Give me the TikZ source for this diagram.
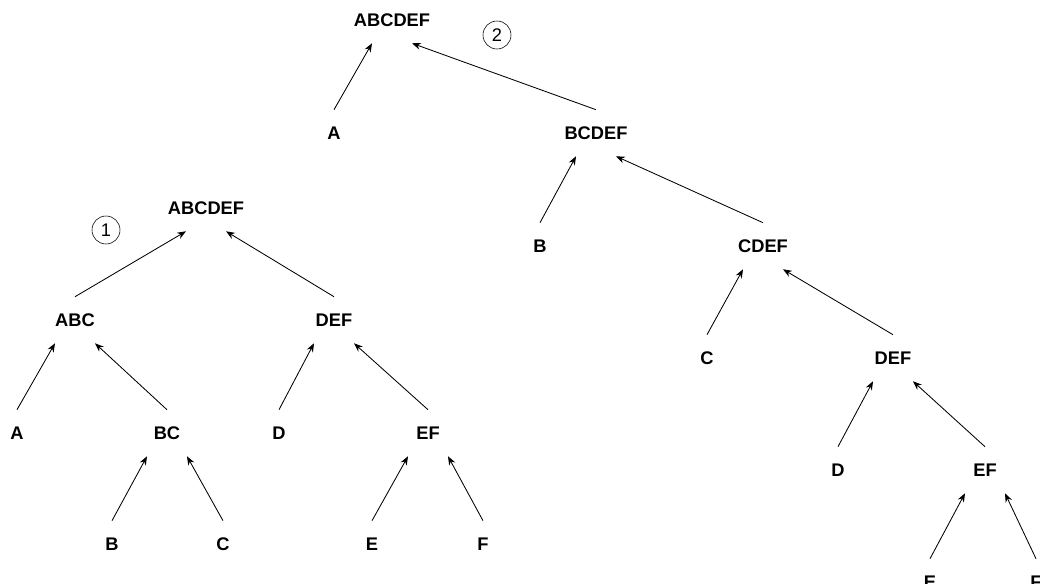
\documentclass[tikz,border=0pt]{standalone}
\usepackage{fontspec}
\setmainfont{Liberation Sans}
\usetikzlibrary{arrows.meta}

\begin{document}
\begin{tikzpicture}[x=0.025cm, y=-0.025cm,
    set/.style={font=\fontsize{13}{15}\selectfont\bfseries,
        minimum height=1.15cm, inner sep=0pt},
    num/.style={draw, circle, minimum size=0.7cm, inner sep=0pt,
        font=\fontsize{13}{15}\selectfont},
    up/.style={-{Stealth[length=2.2mm, width=1.7mm]}, line width=0.6pt},
    ]
    \useasboundingbox (0,0) rectangle (1040,584);
    % balanced split
    \node[set] (lroot) at (206,208) {ABCDEF};
    \node[num] (lnum) at (106,230) {1};
    \node[set] (labc) at (75,320) {ABC};
    \node[set] (ldef) at (334,320) {DEF};
    \node[set] (la) at (17,433) {A};
    \node[set] (lbc) at (167,433) {BC};
    \node[set] (ld) at (279,433) {D};
    \node[set] (lef) at (428,433) {EF};
    \node[set] (lb) at (112,544) {B};
    \node[set] (lc) at (223,544) {C};
    \node[set] (le) at (372,544) {E};
    \node[set] (lf) at (483,544) {F};
    % one letter at a time
    \node[set] (rroot) at (392,20) {ABCDEF};
    \node[num] (rnum) at (497,35) {2};
    \node[set] (ra) at (334,133) {A};
    \node[set] (rbcdef) at (596,133) {BCDEF};
    \node[set] (rb) at (540,246) {B};
    \node[set] (rcdef) at (763,246) {CDEF};
    \node[set] (rc) at (707,358) {C};
    \node[set] (rdef) at (893,358) {DEF};
    \node[set] (rd) at (838,470) {D};
    \node[set] (ref) at (985,470) {EF};
    \node[set] (re) at (930,582) {E};
    \node[set] (rf) at (1036,582) {F};
    \foreach \c/\p/\s in {labc/lroot/-, ldef/lroot/+, la/labc/-, lbc/labc/+,
            ld/ldef/-, lef/ldef/+, lb/lbc/-, lc/lbc/+, le/lef/-, lf/lef/+,
            ra/rroot/-, rbcdef/rroot/+, rb/rbcdef/-, rcdef/rbcdef/+,
            rc/rcdef/-, rdef/rcdef/+, rd/rdef/-, ref/rdef/+,
            re/ref/-, rf/ref/+}
        \draw[up] (\c.north) -- ([xshift=\s0.5cm]\p.south);
\end{tikzpicture}
\end{document}
